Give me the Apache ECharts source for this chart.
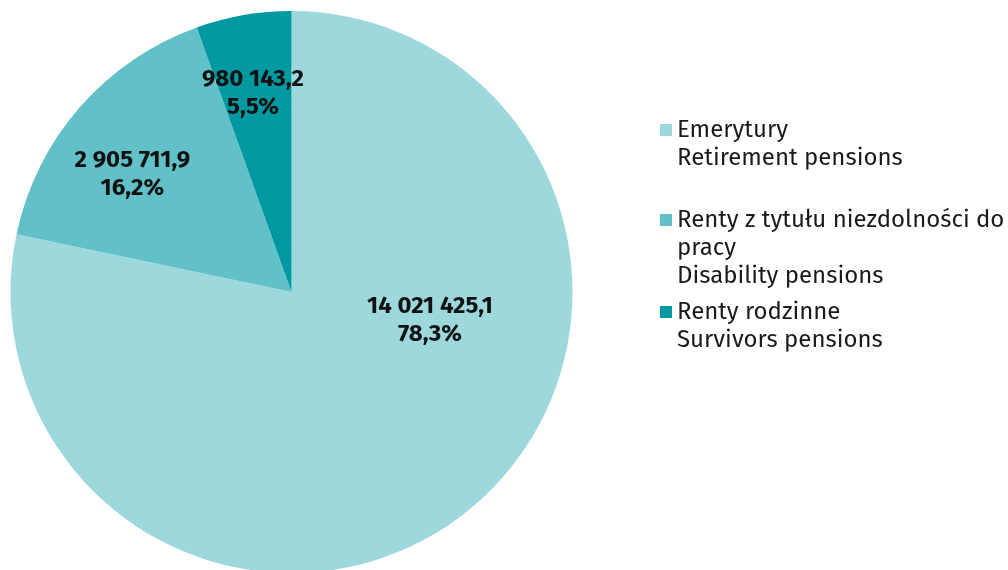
<!DOCTYPE html>
<html>
<head>
<meta charset="utf-8">
<script src="https://cdn.jsdelivr.net/npm/echarts@6/dist/echarts.min.js"></script>
<style>
html,body{margin:0;padding:0;background:#fff;}
#chart{width:1008px;height:570px;}
</style>
</head>
<body>
<div id="chart"></div>
<script>
var categories = [
  "Emerytury\nRetirement pensions",
  "Renty z tytułu niezdolności do\npracy\nDisability pensions",
  "Renty rodzinne\nSurvivors pensions"
];
var values = [14021425.1, 2905711.9, 980143.2];
var valueLabels = ["14 021 425,1", "2 905 711,9", "980 143,2"];
var percentLabels = ["78,3%", "16,2%", "5,5%"];
var colors = ["#9dd8dc", "#62c0c8", "#0098a1"];

var FONT = '"Fira Sans", "Noto Sans", sans-serif';
var cx = 291.5, cy = 292, R = 281;
var labelOffsets = [[48, -83], [-51, -23], [-14, -57]];

var chart = echarts.init(document.getElementById('chart'));

function makeLegend(i, top) {
  return {
    show: true,
    data: [categories[i]],
    left: 660,
    top: top,
    padding: 0,
    icon: 'rect',
    itemWidth: 12,
    itemHeight: 12,
    selectedMode: false,
    formatter: function (name) {
      var n = name.split('\n').length;
      var pre = '';
      for (var k = 1; k < n; k++) pre += '\n';
      return pre + name;
    },
    textStyle: {
      fontFamily: FONT,
      fontSize: 24,
      lineHeight: 28,
      color: '#1a1a1a'
    }
  };
}

var option = {
  animation: false,
  backgroundColor: '#ffffff',
  color: colors,
  legend: [makeLegend(0, 88), makeLegend(1, 150), makeLegend(2, 270)],
  series: [{
    type: 'pie',
    center: [cx, cy],
    radius: [0, R],
    startAngle: 90,
    clockwise: true,
    avoidLabelOverlap: false,
    label: {
      show: true,
      position: 'inside',
      fontFamily: FONT,
      fontSize: 24,
      fontWeight: 'bold',
      lineHeight: 28,
      color: '#111111',
      formatter: function (p) {
        return valueLabels[p.dataIndex] + '\n' + percentLabels[p.dataIndex];
      }
    },
    labelLine: { show: false },
    labelLayout: function (p) {
      var o = labelOffsets[p.dataIndex];
      return { dx: o[0], dy: o[1] };
    },
    itemStyle: { borderWidth: 0 },
    emphasis: { disabled: true },
    data: categories.map(function (c, i) {
      return { name: c, value: values[i] };
    })
  }]
};
chart.setOption(option);
</script>
</body>
</html>
